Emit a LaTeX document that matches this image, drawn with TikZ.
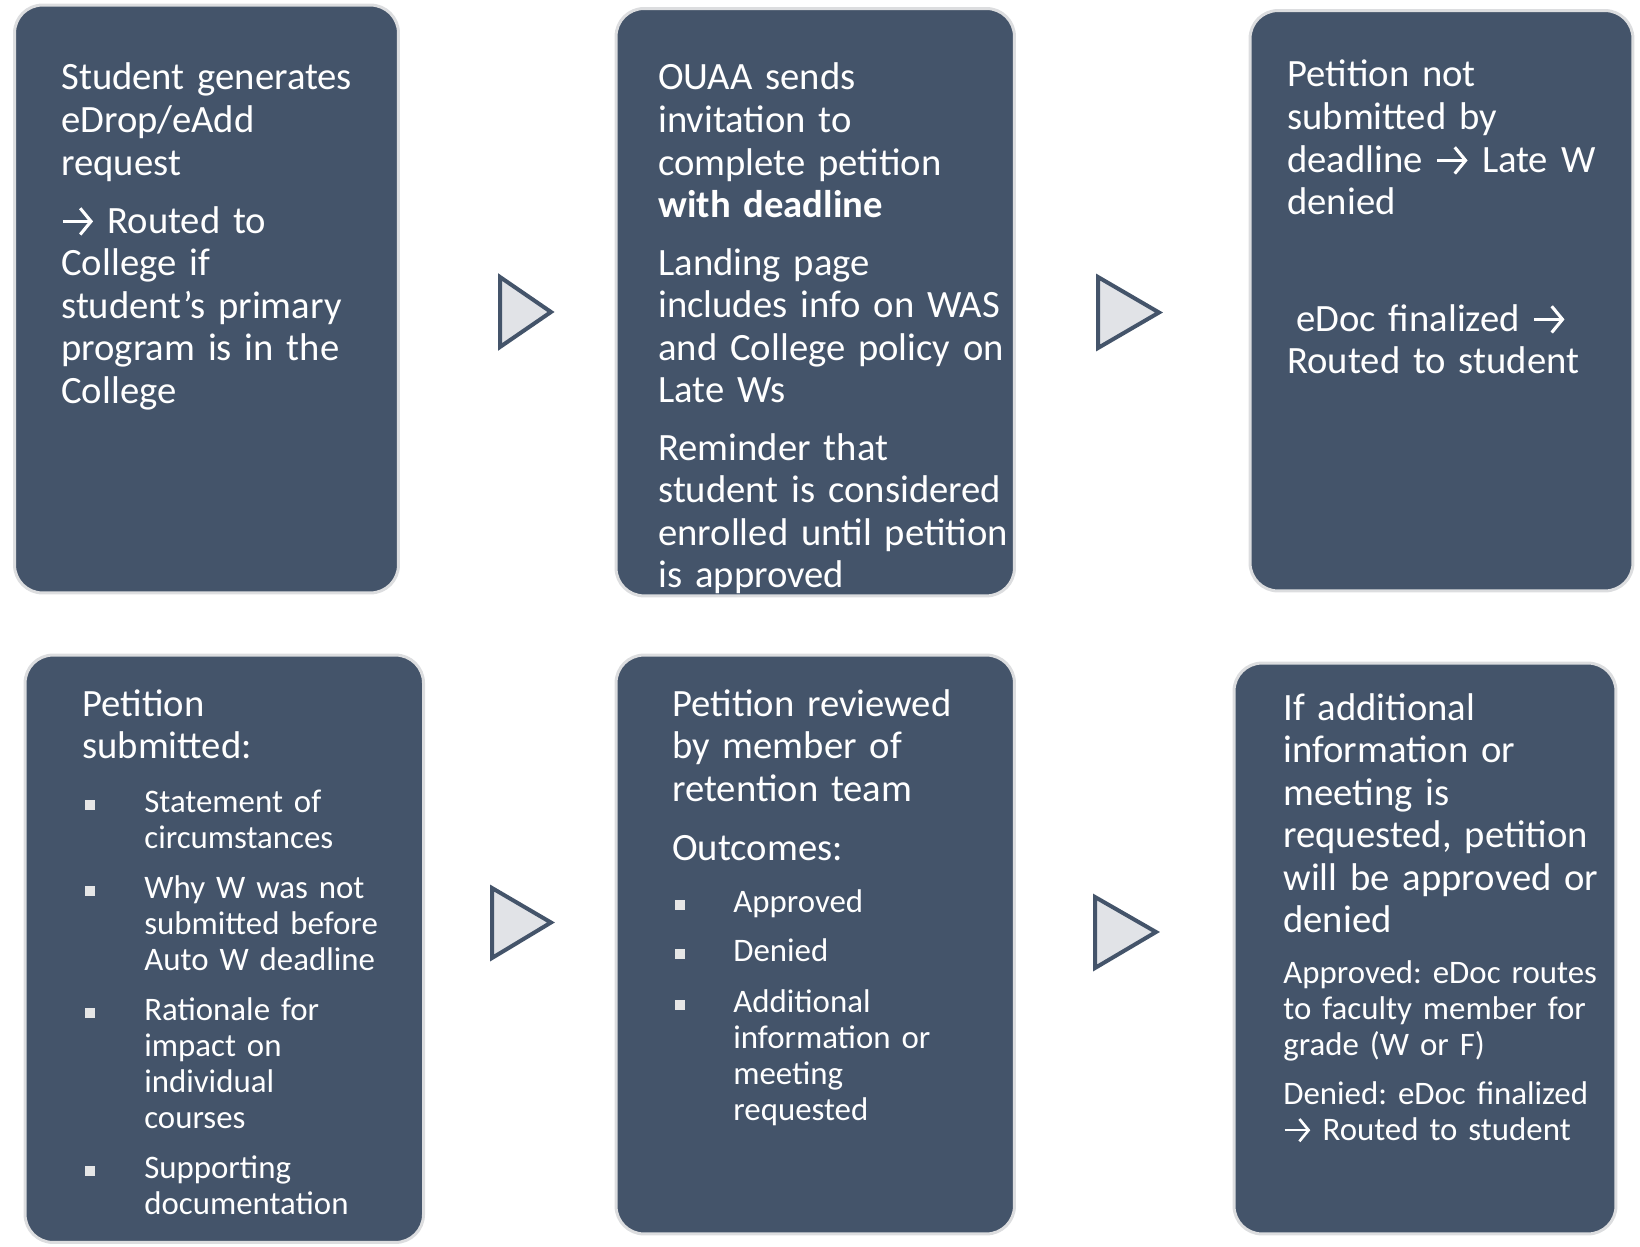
\documentclass[tikz,border=0pt]{standalone}
\usepackage{fontspec}
\usetikzlibrary{arrows.meta}
\setmainfont{Carlito}
\definecolor{boxfill}{HTML}{44546A}
\definecolor{boxedge}{HTML}{DCDDDF}
\definecolor{trifill}{HTML}{E1E3E7}
\definecolor{bulletc}{HTML}{E6E6E6}
\newcommand\bigtxt{\fontsize{22}{24.2}\selectfont\frenchspacing}
\newcommand\smalltxt{\fontsize{18.7}{20.5}\selectfont\frenchspacing}
\newcommand\arr{\tikz[baseline=-0.3em]\draw[draw=white,line width=0.08em,-{Straight Barb[length=0.28em,width=0.68em,line width=0.08em]}] (0,0)--(0.78em,0);}
\begin{document}
\begin{tikzpicture}[x=0.02cm,y=-0.02cm,
  box/.style={draw=boxedge,line width=0.06cm,fill=boxfill,rounded corners=0.56cm,inner sep=0},
  txt/.style={anchor=base west,align=left,inner sep=0,text=white,font=\bigtxt,text width=8cm},
  stxt/.style={txt,font=\smalltxt},
  bulletsq/.style={fill=bulletc,inner sep=0,minimum size=0.2cm},
  tri/.style={draw=boxfill,fill=trifill,line width=0.08cm,line join=miter}]
\useasboundingbox (0,0) rectangle (1640,1247);
% boxes
\node[box,minimum width=7.68cm,minimum height=11.76cm] (box1) at (206.5,299) {};
\node[box,minimum width=7.97cm,minimum height=11.75cm] (box2) at (815.25,302.2) {};
\node[box,minimum width=7.66cm,minimum height=11.61cm] (box3) at (1441.5,300.75) {};
\node[box,minimum width=7.97cm,minimum height=11.75cm] (box4) at (224.3,948.75) {};
\node[box,minimum width=7.97cm,minimum height=11.58cm] (box5) at (815.25,944.5) {};
\node[box,minimum width=7.64cm,minimum height=11.42cm] (box6) at (1425,948.5) {};
% triangles
\draw[tri] (500,277) -- (551,312) -- (500,347) -- cycle;
\draw[tri] (1098,277) -- (1159,312.5) -- (1098,348) -- cycle;
\draw[tri] (492,888) -- (551,922.5) -- (492,958) -- cycle;
\draw[tri] (1095,897) -- (1156,932) -- (1095,968) -- cycle;
% box 1
\node[txt] (t1a) at (61,90) {Student generates\\eDrop/eAdd\\request};
\node[txt] (t1b) at (61,233) {\arr{} Routed to\\College if\\student’s primary\\program is in the\\College};
% box 2
\node[txt] (t2a) at (658,90) {OUAA sends\\invitation to\\complete petition\\\textbf{with deadline}};
\node[txt] (t2b) at (658,275) {Landing page\\includes info on WAS\\and College policy on\\Late Ws};
\node[txt] (t2c) at (658,460) {Reminder that\\student is considered\\enrolled until petition\\is approved};
% box 3
\node[txt] (t3a) at (1287,87) {Petition not\\submitted by\\deadline \arr{} Late W\\denied};
\node[txt] (t3b) at (1287,331) {\hspace*{0.18cm}eDoc finalized \arr\\Routed to student};
% box 4
\node[txt] (t4h) at (82,716) {Petition\\submitted:};
\node[stxt] (t4a) at (144,812) {Statement of\\circumstances};
\node[stxt] (t4b) at (144,898) {Why W was not\\submitted before\\Auto W deadline};
\node[stxt] (t4c) at (144,1020) {Rationale for\\impact on\\individual\\courses};
\node[stxt] (t4d) at (144,1178) {Supporting\\documentation};
\node[bulletsq] (u4a) at (90,805) {};
\node[bulletsq] (u4b) at (90,891) {};
\node[bulletsq] (u4c) at (90,1013) {};
\node[bulletsq] (u4d) at (90,1171) {};
% box 5
\node[txt] (t5h) at (672,716) {Petition reviewed\\by member of\\retention team};
\node[txt] (t5o) at (672,860) {Outcomes:};
\node[stxt] (t5a) at (733,912) {Approved};
\node[stxt] (t5b) at (733,961) {Denied};
\node[stxt] (t5c) at (733,1012) {Additional\\information or\\meeting\\requested};
\node[bulletsq] (u5a) at (680,905) {};
\node[bulletsq] (u5b) at (680,954) {};
\node[bulletsq] (u5c) at (680,1005) {};
% box 6
\node[txt] (t6a) at (1283,720) {If additional\\information or\\meeting is\\requested, petition\\will be approved or\\denied};
\node[stxt] (t6b) at (1283,983) {Approved: eDoc routes\\to faculty member for\\grade (W or F)};
\node[stxt] (t6c) at (1283,1104) {Denied: eDoc finalized\\\arr{} Routed to student};
\end{tikzpicture}
\end{document}
